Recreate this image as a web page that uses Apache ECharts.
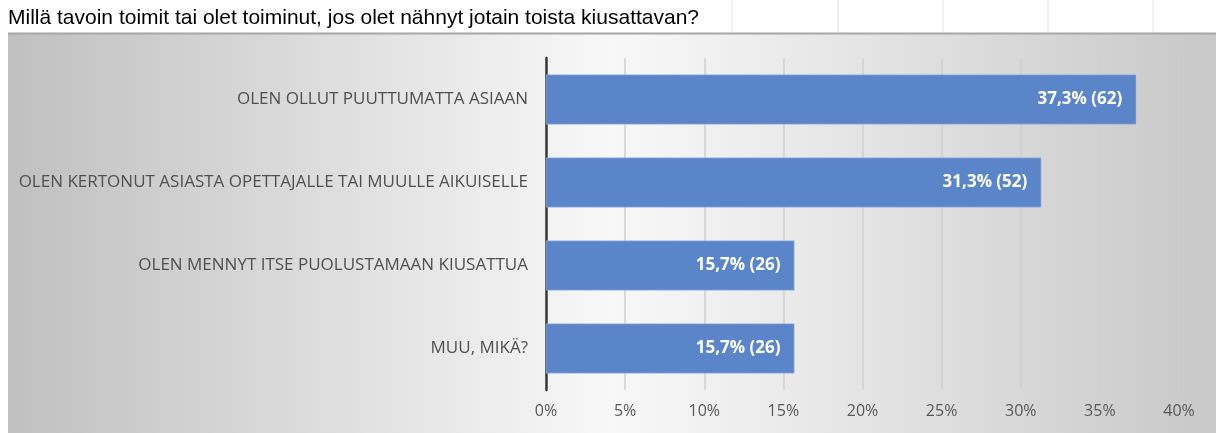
<!DOCTYPE html>
<html><head><meta charset="utf-8">
<script src="https://cdn.jsdelivr.net/npm/echarts@6/dist/echarts.min.js"></script>
<style>html,body{margin:0;padding:0;background:#fff}#c{width:1216px;height:433px}</style>
</head><body><div id="c"></div>
<script>
const titleText = 'Millä tavoin toimit tai olet toiminut, jos olet nähnyt jotain toista kiusattavan?';
const categories = ['OLEN OLLUT PUUTTUMATTA ASIAAN','OLEN KERTONUT ASIASTA OPETTAJALLE TAI MUULLE AIKUISELLE','OLEN MENNYT ITSE PUOLUSTAMAAN KIUSATTUA','MUU, MIKÄ?'];
const percents = [37.3, 31.3, 15.7, 15.7];
const counts = [62, 52, 26, 26];
const xTicks = [0,5,10,15,20,25,30,35,40];

const chart = echarts.init(document.getElementById('c'), null, {renderer:'canvas'});
const sheetLines = [732, 838, 943, 1048, 1153].map(x => ({
  type:'line', shape:{x1:x, y1:0, x2:x, y2:32}, style:{stroke:'#e4e4e4', lineWidth:1}, silent:true
}));
const F = '"Open Sans", Lato, sans-serif';
chart.setOption({
  animation:false,
  graphic:[
    ...sheetLines,
    {type:'rect', shape:{x:8, y:33, width:1208, height:400}, z:-10,
     style:{fill:new echarts.graphic.LinearGradient(0,0,1,0,[
       {offset:0,color:'#c0c0c0'},{offset:0.5,color:'#f8f8f8'},{offset:1,color:'#c8c8c8'}])}},
    {type:'line', shape:{x1:8,y1:33.5,x2:1216,y2:33.5}, style:{stroke:'#a6a6a6', lineWidth:2}, z:-5},
    {type:'text', left:8, top:8, style:{text:titleText, fill:'#000', font:'21px "Liberation Sans", Arial, sans-serif'}}
  ],
  grid:{left:546, right:37, top:58, bottom:43},
  xAxis:{type:'value', min:0, max:40, interval:5,
    axisLine:{show:false}, axisTick:{show:false},
    splitLine:{show:true, lineStyle:{color:'#cfcfcf', width:1.5}},
    axisLabel:{formatter:v=>v+'%', color:'#595959', fontSize:16, fontFamily:F, margin:13}
  },
  yAxis:{type:'category', data:categories, inverse:true,
    axisLine:{show:true, lineStyle:{color:'#3a3a3a', width:2.5}}, axisTick:{show:false},
    axisLabel:{color:'#505050', fontSize:17, fontFamily:F, margin:18}
  },
  series:[{
    type:'bar', data:percents, barCategoryGap:'40%',
    itemStyle:{color:'#5b85c9', borderColor:'#a9c0e6', borderWidth:0.5},
    label:{show:true, position:'insideRight', distance:14, color:'#fff', fontWeight:'bold', fontSize:17,
      fontFamily:F,
      formatter:p=>p.value.toFixed(1).replace('.',',')+'% ('+counts[p.dataIndex]+')'}
  }]
});
</script></body></html>
